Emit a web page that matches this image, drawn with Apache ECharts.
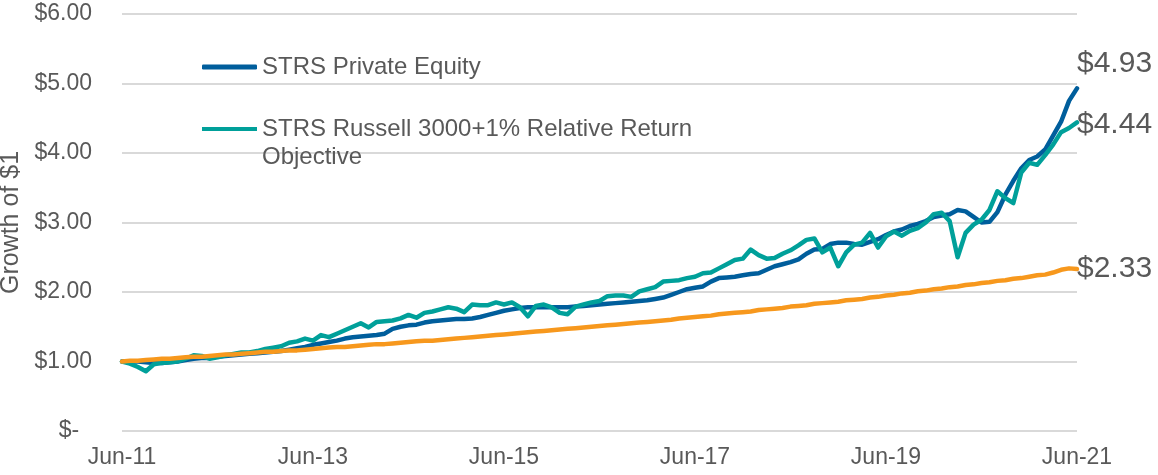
<!DOCTYPE html>
<html>
<head>
<meta charset="utf-8">
<script src="https://cdn.jsdelivr.net/npm/echarts@6/dist/echarts.min.js"></script>
<style>
html,body{margin:0;padding:0;background:#fff;}
#chart{width:1158px;height:475px;}
</style>
</head>
<body>
<div id="chart"></div>
<script>
// Monthly observations, Jun-11 .. Jun-21
const startYear = 11;
const monthNames = ['Jun','Jul','Aug','Sep','Oct','Nov','Dec','Jan','Feb','Mar','Apr','May'];
const tickLabels = ['Jun-11','Jun-13','Jun-15','Jun-17','Jun-19','Jun-21'];

const privateEquity = [
  1.00,1.00,1.00,0.99,0.98,0.98,0.99,1.00,1.02,1.04,1.05,1.05,
  1.07,1.08,1.09,1.10,1.11,1.12,1.13,1.14,1.15,1.17,1.19,1.21,
  1.24,1.26,1.28,1.30,1.33,1.35,1.36,1.37,1.38,1.40,1.47,1.50,
  1.52,1.53,1.56,1.58,1.59,1.60,1.61,1.61,1.62,1.64,1.67,1.70,
  1.73,1.75,1.77,1.78,1.78,1.78,1.78,1.78,1.78,1.79,1.80,1.81,
  1.82,1.83,1.84,1.85,1.86,1.87,1.88,1.90,1.92,1.96,2.00,2.04,
  2.06,2.08,2.15,2.20,2.21,2.22,2.24,2.26,2.27,2.32,2.37,2.40,
  2.43,2.47,2.55,2.61,2.62,2.69,2.71,2.71,2.69,2.68,2.72,2.76,
  2.82,2.87,2.90,2.95,2.98,3.02,3.08,3.10,3.12,3.18,3.16,3.08,
  3.00,3.01,3.15,3.40,3.60,3.78,3.90,3.95,4.05,4.25,4.45,4.75,
  4.93
];
const russellPlus1 = [
  1.00,0.97,0.92,0.86,0.96,0.98,0.99,1.00,1.04,1.09,1.08,1.04,
  1.06,1.09,1.11,1.13,1.13,1.15,1.18,1.20,1.22,1.27,1.29,1.33,
  1.30,1.38,1.35,1.40,1.45,1.50,1.55,1.49,1.57,1.58,1.59,1.62,
  1.67,1.63,1.70,1.72,1.75,1.78,1.76,1.71,1.82,1.81,1.81,1.85,
  1.82,1.85,1.78,1.65,1.80,1.82,1.78,1.70,1.68,1.79,1.82,1.85,
  1.87,1.94,1.95,1.95,1.93,2.01,2.04,2.07,2.15,2.16,2.17,2.20,
  2.22,2.27,2.28,2.34,2.40,2.46,2.48,2.61,2.53,2.48,2.49,2.55,
  2.60,2.67,2.75,2.77,2.57,2.64,2.37,2.57,2.68,2.71,2.85,2.64,
  2.80,2.87,2.81,2.88,2.92,3.00,3.12,3.14,3.02,2.50,2.85,2.97,
  3.04,3.18,3.45,3.35,3.28,3.72,3.86,3.83,3.97,4.12,4.30,4.36,
  4.44
];
const baseline = [
  1.00,1.01,1.01,1.02,1.03,1.04,1.04,1.05,1.06,1.07,1.07,1.08,
  1.09,1.10,1.10,1.11,1.12,1.13,1.14,1.14,1.15,1.16,1.16,1.17,
  1.18,1.19,1.20,1.21,1.21,1.22,1.23,1.24,1.25,1.25,1.26,1.27,
  1.28,1.29,1.30,1.30,1.31,1.32,1.33,1.34,1.35,1.36,1.37,1.38,
  1.39,1.40,1.41,1.42,1.43,1.44,1.45,1.46,1.47,1.48,1.49,1.50,
  1.51,1.52,1.53,1.54,1.55,1.56,1.57,1.58,1.59,1.60,1.62,1.63,
  1.64,1.65,1.66,1.68,1.69,1.70,1.71,1.72,1.74,1.75,1.76,1.77,
  1.79,1.80,1.81,1.83,1.84,1.85,1.86,1.88,1.89,1.90,1.92,1.93,
  1.95,1.96,1.98,1.99,2.01,2.02,2.04,2.05,2.07,2.08,2.10,2.11,
  2.13,2.14,2.16,2.17,2.19,2.20,2.22,2.24,2.25,2.28,2.32,2.34,
  2.33
];

const seriesNames = ['STRS Private Equity', 'STRS Russell 3000+1% Relative Return', 'Baseline'];
const legendTexts = {
  'STRS Private Equity': 'STRS Private Equity',
  'STRS Russell 3000+1% Relative Return': 'STRS Russell 3000+1% Relative Return\nObjective'
};

const categories = [];
for (let i = 0; i < privateEquity.length; i++) {
  const yr = startYear + Math.floor((i + 5) / 12);
  categories.push(monthNames[i % 12] + '-' + String(yr).padStart(2, '0'));
}

const FONT = '"Liberation Sans", Arial, sans-serif';
const GREY = '#595959';
const colors = ['#005e9c', '#00a09a', '#f7981d'];

const chart = echarts.init(document.getElementById('chart'), null, {renderer: 'canvas'});
chart.setOption({
  animation: false,
  textStyle: {fontFamily: FONT},
  grid: {left: 122, right: 81, top: 14, bottom: 44, containLabel: false, outerBoundsMode: 'none'},
  legend: [
    {
      data: [seriesNames[0]],
      left: 197, top: 48,
      icon: 'roundRect', itemWidth: 55, itemHeight: 5,
      itemStyle: {borderWidth: 0},
      formatter: n => legendTexts[n],
      textStyle: {color: GREY, fontSize: 24, lineHeight: 28, fontFamily: FONT},
      selectedMode: false
    },
    {
      data: [seriesNames[1]],
      left: 197, top: 110,
      icon: 'path://M0,0L55,0L55,4L0,4Z M0,32L1,32Z', itemWidth: 55, itemHeight: 32,
      itemStyle: {borderWidth: 0},
      formatter: n => legendTexts[n],
      textStyle: {color: GREY, fontSize: 24, lineHeight: 28, fontFamily: FONT},
      selectedMode: false
    }
  ],
  xAxis: {
    type: 'category',
    data: categories,
    boundaryGap: false,
    axisLine: {show: false},
    axisTick: {show: false},
    axisLabel: {
      interval: 23,
      margin: 15,
      color: GREY, fontSize: 23, fontFamily: FONT,
      formatter: v => (tickLabels.indexOf(v) >= 0 ? v : '')
    },
    splitLine: {show: false}
  },
  yAxis: {
    type: 'value',
    min: 0, max: 6, interval: 1,
    name: 'Growth of $1',
    nameLocation: 'middle',
    nameRotate: 90,
    nameGap: 90,
    nameTextStyle: {color: GREY, fontSize: 25, fontFamily: FONT},
    axisLine: {show: false},
    axisTick: {show: false},
    axisLabel: {
      margin: 30,
      color: GREY, fontSize: 23, fontFamily: FONT,
      formatter: v => (v === 0 ? '$-  ' : '$' + v.toFixed(2))
    },
    splitLine: {lineStyle: {color: '#d9d9d9', width: 2}}
  },
  series: [
    {
      name: seriesNames[0], type: 'line', data: privateEquity,
      showSymbol: false, symbol: 'none',
      lineStyle: {color: colors[0], width: 4.5, cap: 'round', join: 'round'},
      itemStyle: {color: colors[0]},
      endLabel: {show: true, formatter: p => '$' + p.value.toFixed(2), color: GREY, fontSize: 30, fontFamily: FONT, offset: [-8, -25]}
    },
    {
      name: seriesNames[1], type: 'line', data: russellPlus1,
      showSymbol: false, symbol: 'none',
      lineStyle: {color: colors[1], width: 4.5, cap: 'round', join: 'round'},
      itemStyle: {color: colors[1]},
      endLabel: {show: true, formatter: p => '$' + p.value.toFixed(2), color: GREY, fontSize: 30, fontFamily: FONT, offset: [-8, 2]}
    },
    {
      name: seriesNames[2], type: 'line', data: baseline,
      showSymbol: false, symbol: 'none',
      lineStyle: {color: colors[2], width: 4.5, cap: 'round', join: 'round'},
      itemStyle: {color: colors[2]},
      endLabel: {show: true, formatter: p => '$' + p.value.toFixed(2), color: GREY, fontSize: 30, fontFamily: FONT, offset: [-8, 0]}
    }
  ]
});
</script>
</body>
</html>
